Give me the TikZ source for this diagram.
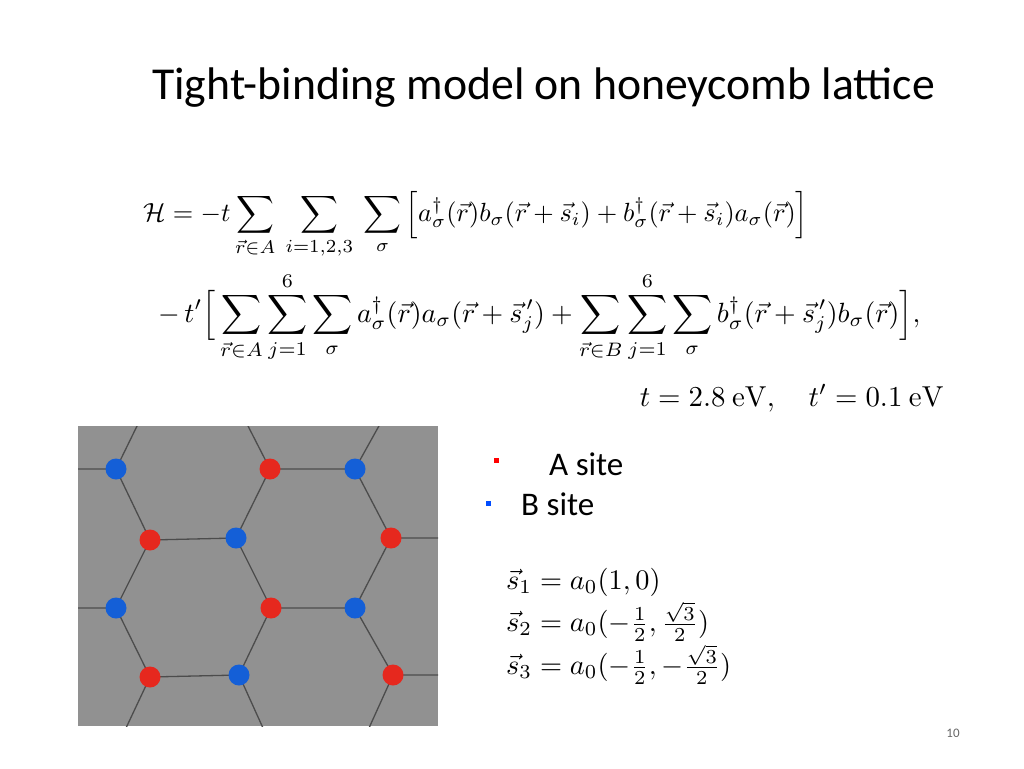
\documentclass[tikz,border=0pt]{standalone}
\usepackage{amsmath}
\usepackage{graphicx}
\usepackage[no-math]{fontspec}
\setmainfont{Carlito}
\begin{document}
\begin{tikzpicture}[x=1pt,y=-1pt,
  bond/.style={draw=black!70,line width=1.3pt},
  asite/.style={circle,fill={rgb,255:red,230;green,40;blue,30},minimum size=21pt,inner sep=0pt},
  bsite/.style={circle,fill={rgb,255:red,20;green,95;blue,215},minimum size=21pt,inner sep=0pt}]
\useasboundingbox (0,0) rectangle (1024,768);
\node[anchor=west,inner sep=0pt] (title) at (152,88) {\resizebox{783pt}{!}{Tight-binding model on honeycomb lattice}};
\node[anchor=north west,inner sep=0pt] (eq1) at (143,191) {\resizebox{665pt}{!}{$\displaystyle
\mathcal{H} = -t\sum_{\vec r\in A}\ \sum_{i=1,2,3}\ \sum_{\sigma}\Big[a^\dagger_\sigma(\vec r)b_\sigma(\vec r+\vec s_i)+b^\dagger_\sigma(\vec r+\vec s_i)a_\sigma(\vec r)\Big]$}};
\node[anchor=north west,inner sep=0pt] (eq2) at (158,272) {\resizebox{762pt}{!}{$\displaystyle
-\,t'\Big[\sum_{\vec r\in A}\sum_{j=1}^{6}\sum_{\sigma}a^\dagger_\sigma(\vec r)a_\sigma(\vec r+\vec s^{\,\prime}_j)+\sum_{\vec r\in B}\sum_{j=1}^{6}\sum_{\sigma}b^\dagger_\sigma(\vec r+\vec s^{\,\prime}_j)b_\sigma(\vec r)\Big],$}};
\node[anchor=east,inner sep=0pt] (par) at (944,398) {\resizebox{304pt}{!}{$t=2.8\ \mathrm{eV},\quad t'=0.1\ \mathrm{eV}$}};
\fill[red] (494,458) rectangle (499,463);
\node[anchor=west,inner sep=0pt,font=\fontsize{33}{38}\selectfont] (la) at (549,464) {A site};
\fill[blue!70!cyan] (486,501) rectangle (491,506);
\node[anchor=west,inner sep=0pt,font=\fontsize{33}{38}\selectfont] (lb) at (521,504) {B site};
\node[anchor=north west,inner sep=0pt] (svec) at (506,565) {\resizebox{225pt}{!}{$\begin{aligned}
\vec s_1 &= a_0(1,0)\\[-3pt]
\vec s_2 &= a_0(-\tfrac12,\tfrac{\sqrt3}{2})\\[-3pt]
\vec s_3 &= a_0(-\tfrac12,-\tfrac{\sqrt3}{2})
\end{aligned}$}};
\node[font=\fontsize{13}{15}\selectfont,text=black!60] (pg) at (953,733) {10};
% lattice
\fill[black!43] (78,426) rectangle (438,726);
\begin{scope}
\clip (78,426) rectangle (438,726);
\coordinate (b1) at (116,469); \coordinate (a1) at (270,469); \coordinate (b2) at (355,469);
\coordinate (a2) at (150,540); \coordinate (b3) at (236,538); \coordinate (a3) at (391,538);
\coordinate (b4) at (116,608); \coordinate (a4) at (271,608); \coordinate (b5) at (355,608);
\coordinate (a5) at (150,677); \coordinate (b6) at (239,675); \coordinate (a6) at (393,675);
\draw[bond] (a1)--(b2) (a2)--(b3) (a4)--(b5) (a5)--(b6)
 (b1)--(70,469) (b4)--(70,608) (a3)--(445,538) (a6)--(445,675)
 (b1)--(a2)--(b4)--(a5) (b3)--(a1) (b3)--(a4)--(b6)
 (b2)--(a3)--(b5)--(a6)
 (b1)--(138,424) (a1)--(247,424) (b2)--(380,424)
 (a5)--(126,728) (b6)--(263,728) (a6)--(369,728);
\end{scope}
\foreach \n in {a1,a2,a3,a4,a5,a6} \node[asite] at (\n) {};
\foreach \n in {b1,b2,b3,b4,b5,b6} \node[bsite] at (\n) {};
\end{tikzpicture}
\end{document}
